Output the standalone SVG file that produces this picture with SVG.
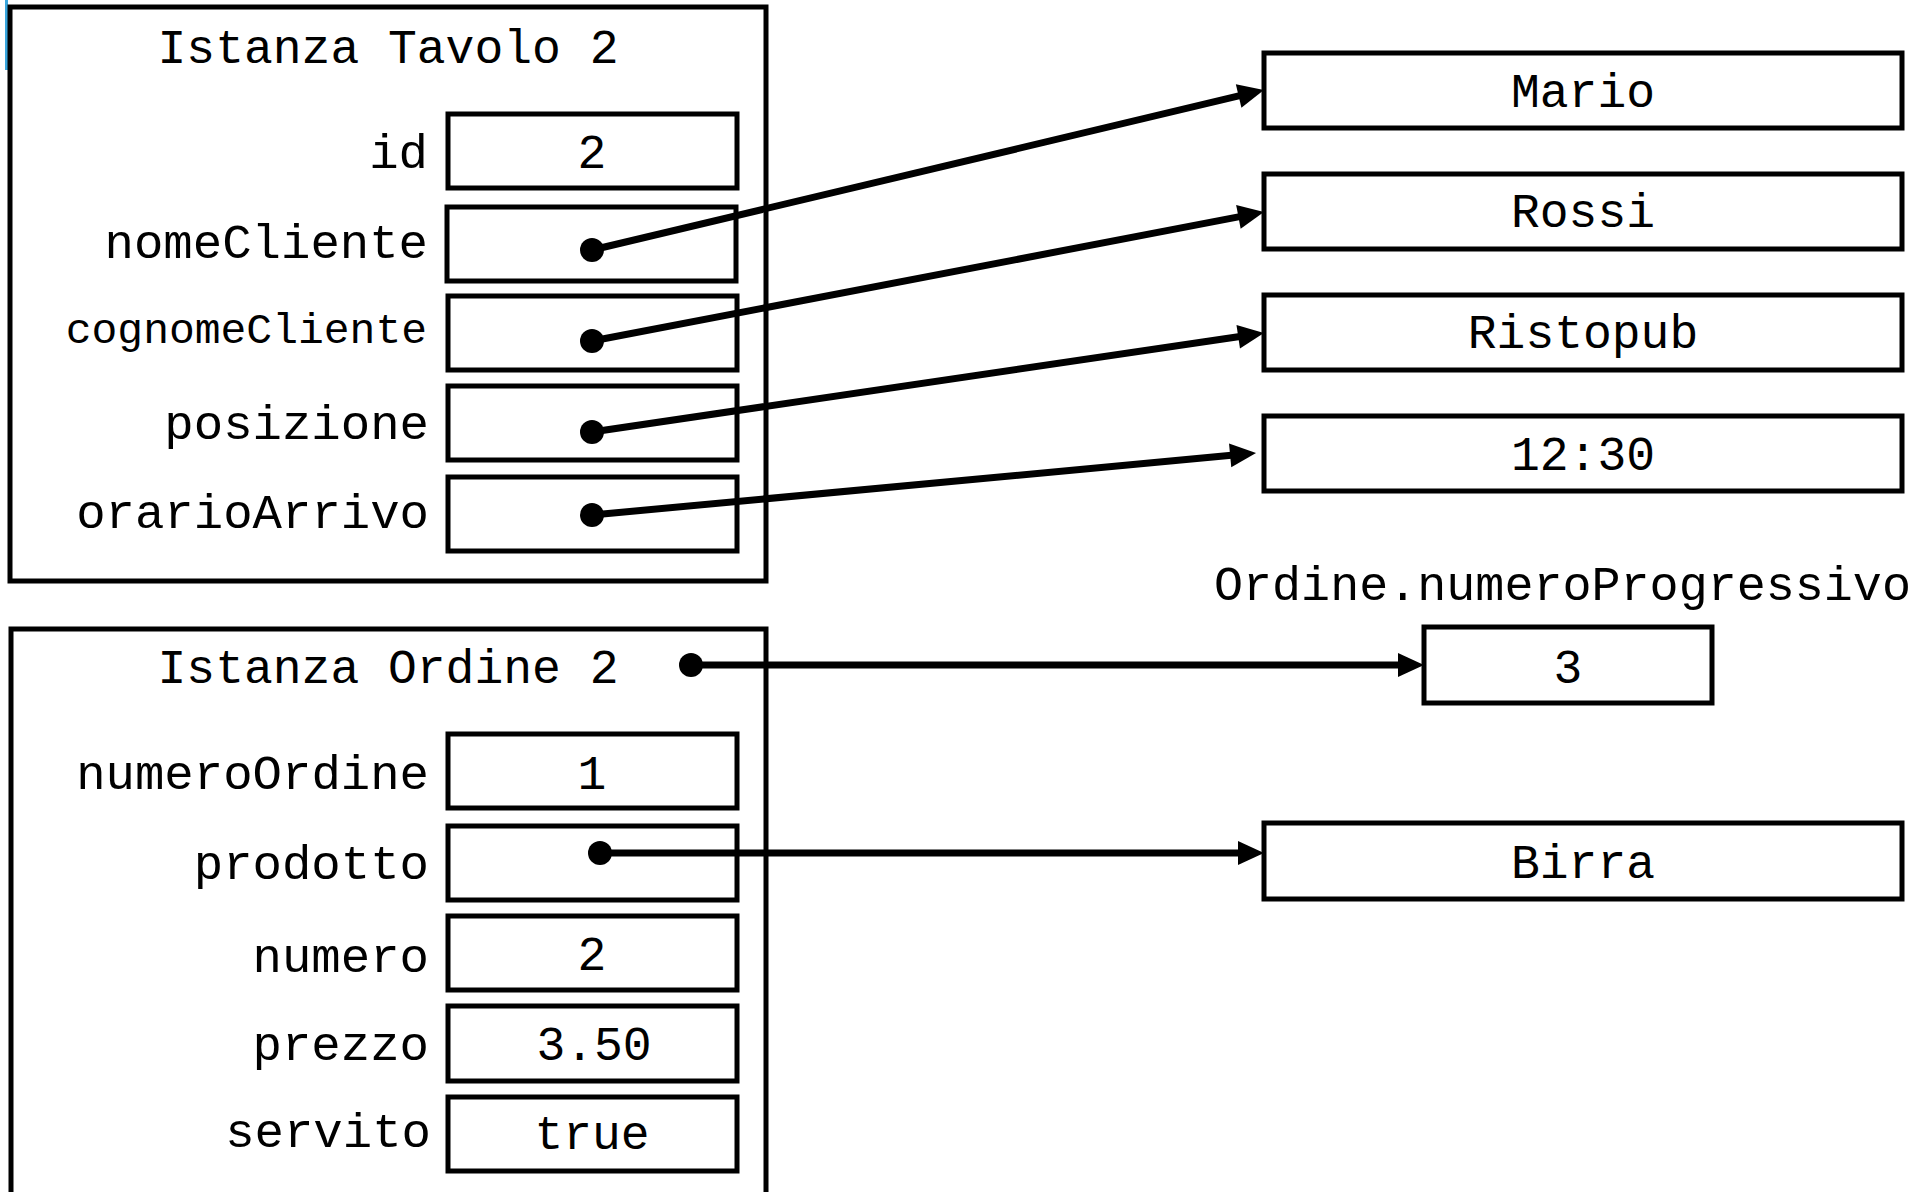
<svg xmlns="http://www.w3.org/2000/svg" width="1932" height="1192" viewBox="0 0 1932 1192">
<style>
  .box { fill: #fff; stroke: #000; stroke-width: 5; }
  .outer { fill: #fff; stroke: #000; stroke-width: 5; }
  text { font-family: "Liberation Mono", "DejaVu Sans Mono", monospace; font-size: 48px; fill: #000; }
  .lbl { text-anchor: end; font-size: 49px; }
  .val { text-anchor: middle; }
  .conn { stroke: #000; stroke-width: 7; fill: none; marker-end: url(#arr); }
  .dot { fill: #000; }
</style>
<defs>
  <marker id="arr" markerUnits="userSpaceOnUse" markerWidth="28" markerHeight="26" refX="12" refY="12" orient="auto" overflow="visible">
    <path d="M0,0 L26,12 L0,24 z" fill="#000"/>
  </marker>
</defs>
<rect x="0" y="0" width="1932" height="1192" fill="#fff"/>
<rect x="5" y="0" width="3" height="70" fill="#3aa6dd"/>

<g id="tavolo">
  <rect class="outer" x="10" y="7" width="756" height="574"/>
  <text class="val" x="388" y="63">Istanza Tavolo 2</text>
  <rect class="box" x="448" y="114" width="289" height="74"/>
  <text class="lbl" x="428" y="168">id</text>
  <text class="val" x="592" y="168">2</text>
  <rect class="box" x="447" y="207" width="289" height="74"/>
  <text class="lbl" x="428" y="258">nomeCliente</text>
  <rect class="box" x="448" y="296" width="289" height="74"/>
  <text class="lbl" x="427" y="343" style="font-size:43px">cognomeCliente</text>
  <rect class="box" x="448" y="386" width="289" height="74"/>
  <text class="lbl" x="429" y="439">posizione</text>
  <rect class="box" x="448" y="477" width="289" height="74"/>
  <text class="lbl" x="429" y="528">orarioArrivo</text>
</g>

<g id="ordine">
  <rect class="outer" x="11" y="629" width="755" height="600"/>
  <text class="val" x="388" y="683">Istanza Ordine 2</text>
  <rect class="box" x="448" y="734" width="289" height="74"/>
  <text class="lbl" x="429" y="789">numeroOrdine</text>
  <text class="val" x="592" y="789">1</text>
  <rect class="box" x="448" y="826" width="289" height="74"/>
  <text class="lbl" x="429" y="879">prodotto</text>
  <rect class="box" x="448" y="916" width="289" height="74"/>
  <text class="lbl" x="429" y="972">numero</text>
  <text class="val" x="592" y="970">2</text>
  <rect class="box" x="448" y="1006" width="289" height="75"/>
  <text class="lbl" x="429" y="1060">prezzo</text>
  <text class="val" x="594" y="1060">3.50</text>
  <rect class="box" x="448" y="1097" width="289" height="74"/>
  <text class="lbl" x="431" y="1147">servito</text>
  <text class="val" x="592" y="1149">true</text>
</g>

<g id="mario"><rect class="box" x="1264" y="53" width="638" height="75"/><text class="val" x="1583" y="107">Mario</text></g>
<g id="rossi"><rect class="box" x="1264" y="174" width="638" height="75"/><text class="val" x="1583" y="227">Rossi</text></g>
<g id="ristopub"><rect class="box" x="1264" y="295" width="638" height="75"/><text class="val" x="1583" y="348">Ristopub</text></g>
<g id="orario"><rect class="box" x="1264" y="416" width="638" height="75"/><text class="val" x="1583" y="470">12:30</text></g>
<g id="progressivo">
  <text x="1214" y="600" style="font-size:48.4px">Ordine.numeroProgressivo</text>
  <rect class="box" x="1424" y="627" width="288" height="76"/>
  <text class="val" x="1568" y="683">3</text>
</g>
<g id="birra"><rect class="box" x="1264" y="823" width="638" height="76"/><text class="val" x="1583" y="878">Birra</text></g>

<g id="connectors">
  <circle class="dot" cx="592" cy="250" r="12"/>
  <line class="conn" x1="592" y1="250" x2="1250.3" y2="93.2"/>
  <circle class="dot" cx="592" cy="341" r="12"/>
  <line class="conn" x1="592" y1="341" x2="1250.2" y2="214.6"/>
  <circle class="dot" cx="592" cy="432" r="12"/>
  <line class="conn" x1="592" y1="432" x2="1250.1" y2="335.0"/>
  <circle class="dot" cx="592" cy="515" r="12"/>
  <line class="conn" x1="592" y1="515" x2="1242.1" y2="454.3"/>
  <circle class="dot" cx="691" cy="665" r="12"/>
  <line class="conn" x1="691" y1="665" x2="1410" y2="665"/>
  <circle class="dot" cx="600" cy="853" r="12"/>
  <line class="conn" x1="600" y1="853" x2="1250" y2="853"/>
</g>
</svg>
